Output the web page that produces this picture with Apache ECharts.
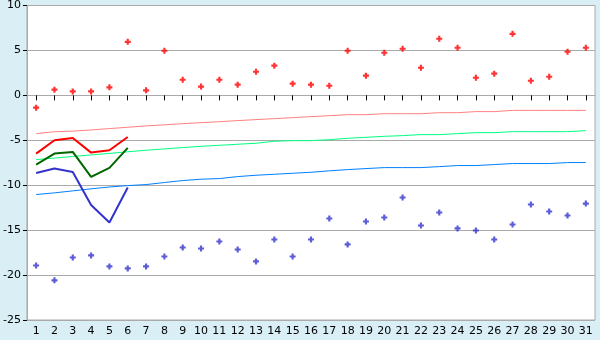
<!DOCTYPE html>
<html>
<head>
<meta charset="utf-8">
<script src="https://cdn.jsdelivr.net/npm/echarts@6/dist/echarts.min.js"></script>
<style>
html,body{margin:0;padding:0;background:#d9eff5;}
#c{width:600px;height:340px;}
</style>
</head>
<body>
<div id="c"></div>
<script>
var days = ['1','2','3','4','5','6','7','8','9','10','11','12','13','14','15','16','17','18','19','20','21','22','23','24','25','26','27','28','29','30','31'];
var yTicks = {min: -25, max: 10, interval: 5};

var maxPoints = [-1.37,0.63,0.44,0.44,0.89,5.96,0.56,4.96,1.74,0.98,1.74,1.19,2.63,3.3,1.3,1.19,1.07,4.96,2.19,4.74,5.19,3.07,6.3,5.3,1.96,2.41,6.85,1.63,2.07,4.85,5.3];
var minPoints = [-18.93,-20.59,-18.04,-17.81,-19.04,-19.26,-19.04,-17.93,-16.93,-17.04,-16.26,-17.15,-18.48,-16.04,-17.93,-16.04,-13.7,-16.59,-14.04,-13.59,-11.37,-14.48,-13.04,-14.81,-15.04,-16.04,-14.37,-12.15,-12.93,-13.37,-12.04];

var redLine = [-6.48,-5.0,-4.74,-6.37,-6.11,-4.63];
var greenLine = [-7.7,-6.48,-6.3,-9.07,-8.07,-5.85];
var blueLine = [-8.63,-8.15,-8.52,-12.2,-14.15,-10.26];

var pinkRef = [-4.26,-4.05,-3.98,-3.85,-3.7,-3.55,-3.4,-3.28,-3.15,-3.04,-2.93,-2.81,-2.7,-2.59,-2.48,-2.37,-2.26,-2.15,-2.15,-2.04,-2.04,-2.04,-1.93,-1.93,-1.81,-1.81,-1.67,-1.67,-1.67,-1.67,-1.67];
var greenRef = [-7.15,-6.98,-6.8,-6.63,-6.46,-6.28,-6.11,-5.96,-5.81,-5.67,-5.56,-5.44,-5.33,-5.11,-5.04,-5.04,-4.93,-4.78,-4.67,-4.56,-4.48,-4.37,-4.37,-4.26,-4.15,-4.15,-4.04,-4.04,-4.04,-4.04,-3.93];
var blueRef = [-11.04,-10.85,-10.63,-10.4,-10.2,-10.04,-9.93,-9.7,-9.48,-9.33,-9.26,-9.04,-8.89,-8.78,-8.67,-8.56,-8.4,-8.26,-8.15,-8.04,-8.04,-8.04,-7.93,-7.81,-7.81,-7.7,-7.59,-7.59,-7.59,-7.48,-7.48];

var plusPath = 'path://M1.6,0H3.4V1.6H5V3.4H3.4V5H1.6V3.4H0V1.6H1.6Z';
var font = 'DejaVu Sans';

function refLine(data, color) {
  return {type:'line', data:data, symbol:'none', silent:true,
    lineStyle:{color:color, width:1}, z:2};
}
function dataLine(data, color) {
  return {type:'line', data:data, symbol:'none', silent:true,
    lineStyle:{color:color, width:2}, z:3};
}

var chart = echarts.init(document.getElementById('c'), null, {renderer:'canvas'});
chart.setOption({
  animation:false,
  backgroundColor:'#d9eff5',
  grid:{left:26, right:5, top:5, bottom:20, show:true, backgroundColor:'#ffffff', borderColor:'#aaaaaa', borderWidth:1},
  xAxis:{type:'category', data:days, boundaryGap:true,
    axisLine:{show:true, lineStyle:{color:'#aaaaaa', width:1}},
    axisTick:{show:true, alignWithLabel:true, interval:0, length:5, lineStyle:{color:'#000000'}},
    axisLabel:{interval:0, color:'#000000', fontFamily:font, fontSize:11, margin:6},
    splitLine:{show:false}},
  yAxis:{type:'value', min:yTicks.min, max:yTicks.max, interval:yTicks.interval,
    axisLine:{show:true, lineStyle:{color:'#aaaaaa', width:1}},
    axisTick:{show:true, length:4, lineStyle:{color:'#000000'}},
    axisLabel:{color:'#000000', fontFamily:font, fontSize:11, margin:6},
    splitLine:{show:true, lineStyle:{color:'#aaaaaa', width:1}}},
  series:[
    refLine(pinkRef, '#ff8080'),
    refLine(greenRef, '#00ff80'),
    refLine(blueRef, '#0080ff'),
    dataLine(redLine, '#ff0000'),
    dataLine(greenLine, '#006600'),
    dataLine(blueLine, '#3333cc'),
    {type:'scatter', data:maxPoints, symbol:plusPath, symbolSize:6, itemStyle:{color:'#ff0000'}, z:4},
    {type:'scatter', data:minPoints, symbol:plusPath, symbolSize:6, itemStyle:{color:'#3333cc'}, z:4}
  ]
});
</script>
</body>
</html>
